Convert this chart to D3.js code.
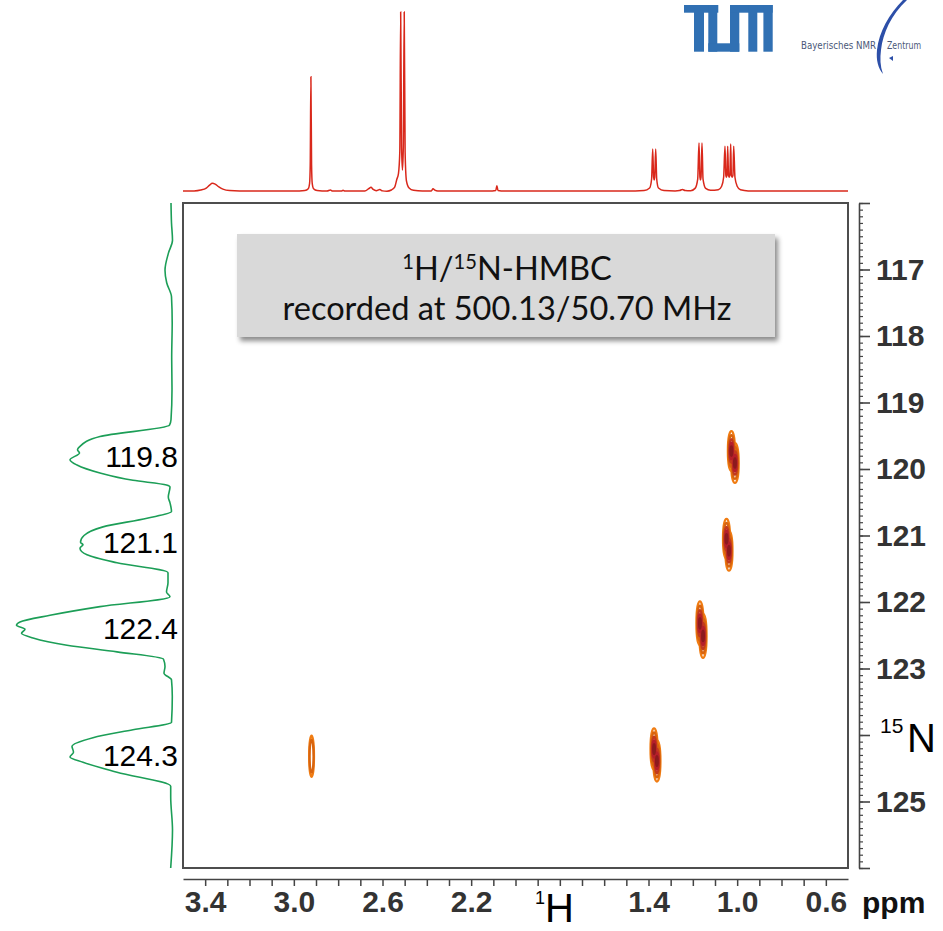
<!DOCTYPE html>
<html>
<head>
<meta charset="utf-8">
<script src="https://cdnjs.cloudflare.com/ajax/libs/d3/7.8.5/d3.min.js"></script>
<style>
  body { margin: 0; background: #fff; }
  svg { display: block; }
</style>
</head>
<body>
<script>
// ---- data ----

// 1H projection (top), [ppm, intensity]; 100 = top of the clipped DMSO lines
const protonTrace = [
  [3.50, 0.3], [3.45, 0.4], [3.42, 0.9], [3.395, 2.0], [3.38, 3.6], [3.368, 4.6], [3.355, 4.2],
  [3.34, 2.8], [3.32, 1.4], [3.29, 0.6], [3.20, 0.3], [3.00, 0.3], [2.95, 0.6], [2.935, 1.6],
  [2.929, 4.5], [2.926, 15], [2.923, 64], [2.920, 15], [2.917, 4.5], [2.911, 1.6], [2.895, 0.6],
  [2.85, 0.3], [2.835, 0.9], [2.825, 0.3], [2.785, 0.3], [2.778, 0.8], [2.77, 0.3], [2.68, 0.4],
  [2.662, 1.6], [2.652, 2.4], [2.642, 1.2], [2.628, 0.5], [2.612, 1.1], [2.60, 0.4], [2.58, 0.2],
  [2.56, 0.9], [2.545, 2.5], [2.535, 7], [2.528, 10], [2.522, 22], [2.518, 100], [2.514, 25],
  [2.510, 12], [2.506, 25], [2.502, 100], [2.498, 22], [2.492, 6], [2.48, 2], [2.46, 0.7],
  [2.42, 0.3], [2.38, 0.4], [2.372, 1.6], [2.364, 0.8], [2.35, 0.3], [2.12, 0.3], [2.089, 0.6],
  [2.084, 3.2], [2.079, 0.6], [2.05, 0.3], [1.50, 0.3], [1.42, 0.6], [1.395, 2], [1.386, 7],
  [1.381, 23.7], [1.377, 8], [1.3743, 6.5], [1.372, 8], [1.3675, 23.7], [1.363, 7], [1.355, 2],
  [1.33, 0.6], [1.28, 0.4], [1.26, 0.6], [1.247, 1.2], [1.235, 0.6], [1.21, 0.5], [1.19, 1.8],
  [1.178, 7], [1.1722, 27], [1.168, 8], [1.1655, 6.5], [1.163, 8], [1.1587, 27], [1.154, 7],
  [1.142, 1.8], [1.12, 0.7], [1.085, 1], [1.07, 3], [1.061, 8], [1.0549, 25.3], [1.051, 9],
  [1.0488, 8], [1.046, 9], [1.0427, 25.3], [1.039, 9], [1.036, 8], [1.033, 9], [1.0292, 26.5],
  [1.026, 9], [1.0225, 8], [1.019, 9], [1.0157, 25.3], [1.010, 8], [1.0, 3], [0.985, 1],
  [0.95, 0.4], [0.80, 0.3], [0.50, 0.3]
];

// 15N projection (left), [ppm, intensity]
const nitrogenTrace = [
  [116.00, 0], [116.30, -0.5], [116.56, -1.5], [116.75, 2.5], [117.01, 6], [117.20, 4.3],
  [117.41, -0.5], [117.80, -1.2], [118.32, -0.7], [118.81, -1], [119.26, 0], [119.34, 1.5],
  [119.51, 71], [119.66, 91], [119.71, 93.5], [119.76, 91.5], [119.86, 101], [119.94, 94],
  [120.06, 71], [120.17, 38], [120.24, 4.5], [120.27, 1], [120.42, 2.7], [120.51, 1],
  [120.64, -0.5], [120.74, 24], [120.87, 68], [121.00, 87], [121.10, 90.5], [121.14, 88],
  [121.19, 91], [121.29, 84], [121.41, 54], [121.56, 3], [121.71, 3], [121.85, 4.5],
  [121.92, 1], [122.07, 71], [122.20, 121], [122.30, 151], [122.35, 154.5], [122.41, 146],
  [122.47, 149.5], [122.54, 138], [122.65, 104], [122.75, 54], [122.86, 7.5], [122.97, 6],
  [123.07, 7], [123.17, -0.5], [123.42, -1.3], [123.81, -0.5], [123.92, 38], [124.04, 78],
  [124.17, 99], [124.26, 97.5], [124.33, 101], [124.41, 88], [124.56, 54], [124.77, 0.3],
  [124.93, 0.3], [125.43, -1.5], [126.00, 0.3]
];

// labels on the 15N projection
const nPeakLabels = [119.8, 121.1, 122.4, 124.3];

// cross peaks: one entry per contour lobe (1H ppm, 15N ppm, half widths in ppm, number of levels)
const crossH  = [1.026, 1.010, 1.048, 1.037, 1.168, 1.154, 1.375, 1.362, 2.920];
const crossN  = [119.73, 119.91, 121.05, 121.23, 122.32, 122.51, 124.21, 124.39, 124.32];
const crossWH = [0.016, 0.017, 0.016, 0.016, 0.016, 0.016, 0.016, 0.016, 0.011];
const crossWN = [0.30, 0.30, 0.30, 0.30, 0.33, 0.33, 0.31, 0.31, 0.31];
const crossLevels = [5, 5, 5, 5, 5, 5, 5, 5, 2];

// axes
const hDomain = [3.5, 0.5];
const nDomain = [116, 126];
const hTickLabels = [3.4, 3.0, 2.6, 2.2, 1.4, 1.0, 0.6];
const nTickLabels = [117, 118, 119, 120, 121, 122, 123, 125];

// ---- layout ----
const width = 943, height = 931;
const frame = { left: 183, top: 203, right: 848, bottom: 868 };
const axisFont = "'Liberation Sans', Arial, Helvetica, sans-serif";

const svg = d3.select("body").append("svg")
  .attr("width", width)
  .attr("height", height);
const defs = svg.append("defs");

const xH = d3.scaleLinear().domain(hDomain).range([frame.left, frame.right]);
const yN = d3.scaleLinear().domain(nDomain).range([frame.top, frame.bottom]);
const yTop = d3.scaleLinear().domain([0, 100]).range([191.6, 12]);   // 1H projection height
const xLeft = d3.scaleLinear().domain([0, 160]).range([171, 11]);    // 15N projection height

// plot frame
svg.append("rect")
  .attr("x", frame.left).attr("y", frame.top)
  .attr("width", frame.right - frame.left).attr("height", frame.bottom - frame.top)
  .attr("fill", "none").attr("stroke", "#4d4d4d").attr("stroke-width", 2);

// 1H projection
svg.append("path")
  .datum(protonTrace)
  .attr("fill", "none")
  .attr("stroke", "#d9281b")
  .attr("stroke-width", 1.5)
  .attr("d", d3.line().x(d => xH(d[0])).y(d => yTop(d[1])).curve(d3.curveMonotoneX));

// 15N projection
svg.append("path")
  .datum(nitrogenTrace)
  .attr("fill", "none")
  .attr("stroke", "#1c9e57")
  .attr("stroke-width", 1.6)
  .attr("d", d3.line().x(d => xLeft(d[1])).y(d => yN(d[0])).curve(d3.curveMonotoneY));

svg.append("g").selectAll("text")
  .data(nPeakLabels)
  .join("text")
  .attr("x", 178)
  .attr("y", d => yN(d))
  .attr("dy", "0.36em")
  .attr("text-anchor", "end")
  .attr("font-family", axisFont)
  .attr("font-size", 30)
  .attr("fill", "#000")
  .text(d => d.toFixed(1));

// cross peak contours, drawn level by level so lobes merge
const levelScale = [1, 0.8, 0.6, 0.42, 0.24];
const levelColor = ["#f07c12", "#d8640f", "#c23a1d", "#b51f2a", "#8c1a1e"];
const lobes = crossH.map((h, i) => ({ h: h, n: crossN[i], wh: crossWH[i], wn: crossWN[i], levels: crossLevels[i] }));
const contours = svg.append("g");
levelScale.forEach((s, lvl) => {
  contours.selectAll(null)
    .data(lobes.filter(d => d.levels > lvl))
    .join("ellipse")
    .attr("cx", d => xH(d.h))
    .attr("cy", d => yN(d.n))
    .attr("rx", d => Math.abs(xH(d.h + d.wh) - xH(d.h)) * s)
    .attr("ry", d => Math.abs(yN(d.n + d.wn) - yN(d.n)) * s)
    .attr("fill", "none")
    .attr("stroke", levelColor[lvl])
    .attr("stroke-width", 2.2);
});

// bottom 1H axis
const hTicks = d3.range(34, 5, -1).map(d => d / 10);
const gx = svg.append("g")
  .attr("transform", "translate(0,879)")
  .call(d3.axisBottom(xH)
    .tickValues(hTicks)
    .tickSize(7)
    .tickSizeOuter(0)
    .tickPadding(5)
    .tickFormat(d => hTickLabels.some(v => Math.abs(v - d) < 1e-6) ? d.toFixed(1) : ""));
gx.select(".domain").attr("stroke", "#444").attr("stroke-width", 1.6);
gx.selectAll(".tick line").attr("stroke", "#444").attr("stroke-width", 1.5);
gx.selectAll(".tick text")
  .attr("font-family", axisFont).attr("font-size", 30).attr("font-weight", "bold").attr("fill", "#333");

svg.append("text")
  .attr("x", 862).attr("y", 913)
  .attr("font-family", axisFont).attr("font-size", 30).attr("font-weight", "bold")
  .attr("fill", "#111")
  .text("ppm");

// right 15N axis: minor ticks every 0.1, major every 1
const nMinor = d3.range(1160, 1261).map(d => d / 10);
const gyMinor = svg.append("g")
  .attr("transform", "translate(859,0)")
  .call(d3.axisRight(yN).tickValues(nMinor).tickSize(4).tickSizeOuter(0).tickFormat(""));
gyMinor.select(".domain").attr("stroke", "#444").attr("stroke-width", 1.6);
gyMinor.selectAll(".tick line").attr("stroke", "#444").attr("stroke-width", 1.2);

const gy = svg.append("g")
  .attr("transform", "translate(859,0)")
  .call(d3.axisRight(yN)
    .tickValues(d3.range(116, 127))
    .tickSize(11)
    .tickSizeOuter(0)
    .tickPadding(6)
    .tickFormat(d => nTickLabels.includes(d) ? d : ""));
gy.select(".domain").remove();
gy.selectAll(".tick line").attr("stroke", "#444").attr("stroke-width", 1.6);
gy.selectAll(".tick text")
  .attr("font-family", axisFont).attr("font-size", 30).attr("font-weight", "bold").attr("fill", "#333");

// nucleus labels
svg.append("text")
  .attr("x", 535).attr("y", 904)
  .attr("font-family", axisFont).attr("font-size", 18).attr("fill", "#000")
  .text("1");
svg.append("text")
  .attr("x", 545).attr("y", 922)
  .attr("font-family", axisFont).attr("font-size", 40).attr("fill", "#000")
  .text("H");
svg.append("text")
  .attr("x", 880).attr("y", 733)
  .attr("font-family", axisFont).attr("font-size", 21).attr("fill", "#000")
  .text("15");
svg.append("text")
  .attr("x", 907).attr("y", 752)
  .attr("font-family", axisFont).attr("font-size", 40).attr("fill", "#000")
  .text("N");

// title box with drop shadow
const shadow = defs.append("filter")
  .attr("id", "shadow")
  .attr("x", "-5%").attr("y", "-10%").attr("width", "115%").attr("height", "130%");
shadow.append("feDropShadow")
  .attr("dx", 3).attr("dy", 4).attr("stdDeviation", 2.5)
  .attr("flood-color", "#000").attr("flood-opacity", 0.45);

svg.append("rect")
  .attr("x", 237).attr("y", 234).attr("width", 538).attr("height", 103)
  .attr("fill", "#d9d9d9")
  .attr("filter", "url(#shadow)");

const titleFont = "Lato, 'Open Sans', sans-serif";
const line2 = svg.append("text")
  .attr("x", 507).attr("y", 320)
  .attr("text-anchor", "middle")
  .attr("font-family", titleFont).attr("font-size", 30).attr("fill", "#111")
  .text("recorded at 500.13/50.70 MHz");
const fs = 30 * 449 / line2.node().getComputedTextLength();
line2.attr("font-size", fs);

const line1 = svg.append("text")
  .attr("x", 507).attr("y", 280)
  .attr("text-anchor", "middle")
  .attr("font-family", titleFont).attr("font-size", fs).attr("fill", "#111");
line1.append("tspan").attr("font-size", fs * 0.62).attr("dy", -fs * 0.33).text("1");
line1.append("tspan").attr("dy", fs * 0.33).text("H/");
line1.append("tspan").attr("font-size", fs * 0.62).attr("dy", -fs * 0.33).text("15");
line1.append("tspan").attr("dy", fs * 0.33).text("N-HMBC");

// TUM logo
const tum = svg.append("g").attr("transform", "translate(684,5)").attr("fill", "#3070b3");
[
  [0, 0, 34.3, 7.7], [10, 0, 10, 46.7], [24.3, 0, 9, 46.7], [24.3, 38.3, 31, 8.4],
  [46, 0, 9.3, 46.7], [46, 0, 42.7, 7.7], [64.3, 0, 9, 46.7], [79.4, 0, 9.3, 46.7]
].forEach(r => tum.append("rect").attr("x", r[0]).attr("y", r[1]).attr("width", r[2]).attr("height", r[3]));

// Bayerisches NMR Zentrum logo
const bnmr = svg.append("g");
bnmr.append("path")
  .attr("d", "M903,0 C889,14 879,32 877,50 C876,60 878,68 883,74 C880,66 880,58 881,50 C883,33 891,15 907,0 Z")
  .attr("fill", "#2d4fa8");
bnmr.append("path")
  .attr("d", "M889,58 L893,56 L893,61 Z")
  .attr("fill", "#2d4fa8");
bnmr.append("text")
  .attr("x", 801).attr("y", 49)
  .attr("font-family", "'Liberation Sans Narrow', 'DejaVu Sans Condensed', sans-serif")
  .attr("font-size", 10.5).attr("fill", "#4b5878")
  .attr("textLength", 75).attr("lengthAdjust", "spacingAndGlyphs")
  .text("Bayerisches NMR");
bnmr.append("text")
  .attr("x", 887).attr("y", 49)
  .attr("font-family", "'Liberation Sans Narrow', 'DejaVu Sans Condensed', sans-serif")
  .attr("font-size", 10.5).attr("fill", "#4b5878")
  .attr("textLength", 34).attr("lengthAdjust", "spacingAndGlyphs")
  .text("Zentrum");
</script>
</body>
</html>
